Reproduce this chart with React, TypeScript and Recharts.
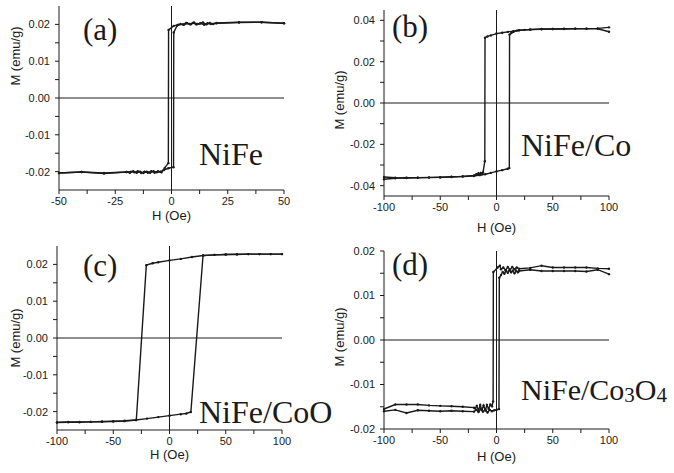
import { LineChart, Line, XAxis, YAxis, ReferenceLine } from "recharts";

// (a) NiFe — descending and ascending branches, H in Oe, M in emu/g
const aDescH = [50, 40, 30, 20, 18.5, 17, 15.5, 14, 12.5, 11, 9.5, 8, 6.5, 5, 3, 1, -1.3, -1.4, -3, -4.5, -6, -7.5, -9, -10.5, -12, -13.5, -15, -16.5, -18, -20, -30, -40, -50];
const aDescM = [0.0203, 0.0206, 0.0205, 0.0203, 0.0201, 0.0204, 0.02, 0.0205, 0.0202, 0.02, 0.0204, 0.0201, 0.0204, 0.02, 0.0199, 0.0196, 0.0185, -0.0177, -0.019, -0.0202, -0.0199, -0.0203, -0.0199, -0.0203, -0.02, -0.0204, -0.0199, -0.0202, -0.02, -0.0201, -0.0204, -0.0201, -0.0204];
const aAscH = [-50, -40, -30, -20, -18.5, -17, -15.5, -14, -12.5, -11, -9.5, -8, -6.5, -5, -3.5, -1.4, 0.9, 1.0, 2.5, 4, 5.5, 7, 8.5, 10, 11.5, 13, 14.5, 16, 17.5, 20, 30, 40, 50];
const aAscM = [-0.0204, -0.0201, -0.0205, -0.0201, -0.0203, -0.0199, -0.0203, -0.02, -0.0204, -0.02, -0.0203, -0.0199, -0.0202, -0.02, -0.0196, -0.0191, -0.0188, 0.0178, 0.0197, 0.0201, 0.0199, 0.0203, 0.02, 0.0205, 0.0201, 0.0203, 0.0199, 0.0203, 0.0201, 0.0204, 0.0206, 0.0206, 0.0203];

// (b) NiFe/Co
const bDescH = [100, 90, 80, 70, 60, 50, 40, 30, 20, 15, 10, 5, 0, -5, -8, -10.2, -10.4, -12, -13, -14, -15, -16, -17, -18, -20, -30, -40, -50, -60, -70, -80, -90, -100];
const bDescM = [0.0366, 0.0361, 0.0359, 0.0359, 0.0358, 0.0358, 0.0357, 0.0355, 0.0352, 0.0348, 0.0344, 0.034, 0.0336, 0.0327, 0.0322, 0.0316, -0.0282, -0.0336, -0.0345, -0.0338, -0.0347, -0.034, -0.0348, -0.0345, -0.035, -0.0355, -0.0357, -0.0359, -0.036, -0.0361, -0.0362, -0.0364, -0.0369];
const bAscH = [-100, -90, -80, -70, -60, -50, -40, -30, -20, -15, -10, -5, 0, 5, 10, 11.4, 11.6, 13, 15, 18, 20, 25, 30, 40, 50, 60, 70, 80, 90, 100];
const bAscM = [-0.0358, -0.0362, -0.0363, -0.0362, -0.0361, -0.036, -0.0358, -0.0356, -0.0353, -0.0349, -0.0345, -0.0338, -0.0331, -0.0325, -0.0318, -0.0315, 0.0331, 0.0338, 0.0344, 0.035, 0.0352, 0.0354, 0.0356, 0.0358, 0.0358, 0.0359, 0.036, 0.036, 0.0359, 0.0345];

// (c) NiFe/CoO
const cDescH = [100, 90, 80, 70, 60, 50, 40, 30, 20, 10, 0, -10, -15, -20.6, -29.5, -40, -50, -60, -70, -80, -90, -100];
const cDescM = [0.0228, 0.0228, 0.0228, 0.0228, 0.0227, 0.0227, 0.0226, 0.0224, 0.022, 0.0215, 0.0211, 0.0206, 0.0203, 0.0198, -0.0223, -0.0226, -0.0227, -0.0228, -0.0228, -0.0229, -0.0229, -0.023];
const cAscH = [-100, -90, -80, -70, -60, -50, -40, -30, -20, -10, 0, 10, 15, 19, 29.8, 40, 50, 60, 70, 80, 90, 100];
const cAscM = [-0.0229, -0.0228, -0.0228, -0.0228, -0.0227, -0.0226, -0.0225, -0.0223, -0.0219, -0.0215, -0.0211, -0.0207, -0.0205, -0.0201, 0.0224, 0.0226, 0.0227, 0.0228, 0.0228, 0.0228, 0.0228, 0.0228];

// (d) NiFe/Co3O4
const dDescH = [100, 90, 80, 70, 60, 50, 40, 30, 20, 18, 16, 14, 12, 10, 8, 6, 4, 3, 1, -2.8, -3.0, -4, -5.5, -7, -8.5, -10, -11.5, -13, -14.5, -16, -17.5, -19, -20, -30, -40, -50, -60, -70, -80, -90, -100];
const dDescM = [0.016, 0.0161, 0.0163, 0.0163, 0.0163, 0.0163, 0.0167, 0.0162, 0.016, 0.0163, 0.0159, 0.0164, 0.0158, 0.0164, 0.0157, 0.0163, 0.0159, 0.0167, 0.0163, 0.0153, -0.0138, -0.0149, -0.0145, -0.0155, -0.0146, -0.0158, -0.0147, -0.0157, -0.0146, -0.0159, -0.0148, -0.0154, -0.0152, -0.015, -0.0149, -0.0148, -0.0147, -0.0145, -0.0145, -0.0145, -0.0155];
const dAscH = [-100, -90, -80, -70, -60, -50, -40, -30, -20, -18, -16, -14, -12, -10, -8, -6, -4, -2, 0, 2.2, 2.5, 4, 5.5, 7, 8.5, 10, 11.5, 13, 14.5, 16, 17.5, 19, 20, 30, 40, 50, 60, 70, 80, 90, 100];
const dAscM = [-0.016, -0.0157, -0.0164, -0.0158, -0.0159, -0.016, -0.0159, -0.016, -0.0161, -0.0157, -0.0162, -0.0155, -0.0161, -0.0156, -0.0163, -0.0157, -0.016, -0.0158, -0.0157, -0.0155, 0.014, 0.0146, 0.0153, 0.0149, 0.0156, 0.0151, 0.0157, 0.0152, 0.0156, 0.015, 0.0156, 0.0152, 0.0155, 0.0158, 0.0155, 0.0155, 0.0155, 0.0155, 0.0154, 0.0158, 0.0148];

// tick positions (majors get labels, the rest are minor marks)
const hTicks50 = [-50, -37.5, -25, -12.5, 0, 12.5, 25, 37.5, 50];
const hTicks100 = [-100, -75, -50, -25, 0, 25, 50, 75, 100];
const mTicks02 = [-0.02, -0.015, -0.01, -0.005, 0, 0.005, 0.01, 0.015, 0.02];
const mTicks04 = [-0.04, -0.03, -0.02, -0.01, 0, 0.01, 0.02, 0.03, 0.04];

const pair = (hs: number[], ms: number[]) => hs.map((h, i) => ({ h, m: ms[i] }));

const ink = "#1a1a1a";
const sans = "'Liberation Sans', Arial, sans-serif";
const serif = "'Liberation Serif', 'Times New Roman', serif";

const isMajor = (v: number, step: number) => Math.abs(v / step - Math.round(v / step)) < 1e-6;

type PanelProps = {
  left: number;
  top: number;
  mt: number;
  yw: number;
  mr: number;
  xh: number;
  xDomain: [number, number];
  xTicks: number[];
  xMajor: number;
  yDomain: [number, number];
  yTicks: number[];
  yMajor: number;
  desc: { h: number; m: number }[];
  asc: { h: number; m: number }[];
  xTitleOffset: number;
  yTitle: [number, number];
  letter: string;
  letterPos: [number, number];
  name: React.ReactNode;
  namePos: [number, number];
  nameSize?: number;
};

function Panel(p: PanelProps) {
  return (
    <div style={{ position: "absolute", left: p.left, top: p.top, width: 337, height: 236 }}>
      <LineChart width={337} height={236} margin={{ top: p.mt, right: p.mr, bottom: 0, left: 0 }}>
        <XAxis
          type="number"
          dataKey="h"
          domain={p.xDomain}
          ticks={p.xTicks}
          interval={0}
          height={p.xh}
          tickSize={4}
          tickMargin={3}
          axisLine={{ stroke: ink }}
          tickLine={{ stroke: ink }}
          tick={{ fill: ink, fontSize: 11, fontFamily: sans }}
          tickFormatter={(v: number) => (isMajor(v, p.xMajor) ? String(v) : "")}
          label={{ value: "H (Oe)", position: "insideBottom", offset: p.xTitleOffset, fill: ink, fontSize: 13, fontFamily: sans }}
        />
        <YAxis
          type="number"
          domain={p.yDomain}
          ticks={p.yTicks}
          interval={0}
          width={p.yw}
          tickSize={4}
          tickMargin={5}
          axisLine={{ stroke: ink }}
          tickLine={{ stroke: ink }}
          tick={{ fill: ink, fontSize: 11, fontFamily: sans }}
          tickFormatter={(v: number) => (isMajor(v, p.yMajor) ? v.toFixed(2) : "")}
        />
        <ReferenceLine y={0} stroke={ink} strokeWidth={1} />
        <ReferenceLine x={0} stroke={ink} strokeWidth={1} />
        <Line
          data={p.desc}
          dataKey="m"
          name="descending"
          type="linear"
          stroke={ink}
          strokeWidth={1.4}
          dot={{ r: 1.2, fill: ink, stroke: "none" }}
          isAnimationActive={false}
        />
        <Line
          data={p.asc}
          dataKey="m"
          name="ascending"
          type="linear"
          stroke={ink}
          strokeWidth={1.4}
          dot={{ r: 1.2, fill: ink, stroke: "none" }}
          isAnimationActive={false}
        />
      </LineChart>
      <svg
        width={337}
        height={236}
        style={{ position: "absolute", left: 0, top: 0, overflow: "visible", pointerEvents: "none" }}
      >
        <text
          x={p.yTitle[0]}
          y={p.yTitle[1]}
          transform={`rotate(-90, ${p.yTitle[0]}, ${p.yTitle[1]})`}
          textAnchor="middle"
          dominantBaseline="central"
          fontSize={13}
          fontFamily={sans}
          fill={ink}
        >
          M (emu/g)
        </text>
        <text x={p.letterPos[0]} y={p.letterPos[1]} fontSize={31} fontFamily={serif} fill={ink}>
          {p.letter}
        </text>
        <text x={p.namePos[0]} y={p.namePos[1]} fontSize={p.nameSize ?? 32} fontFamily={serif} fill={ink}>
          {p.name}
        </text>
      </svg>
    </div>
  );
}

export default function App() {
  return (
    <div style={{ position: "absolute", left: 0, top: 0, width: 674, height: 473, background: "#fff" }}>
      <Panel
        left={0}
        top={0}
        mt={6}
        yw={59}
        mr={53}
        xh={46}
        xDomain={[-50, 50]}
        xTicks={hTicks50}
        xMajor={25}
        yDomain={[-0.025, 0.025]}
        yTicks={mTicks02}
        yMajor={0.01}
        desc={pair(aDescH, aDescM)}
        asc={pair(aAscH, aAscM)}
        xTitleOffset={16}
        yTitle={[15, 56]}
        letter="(a)"
        letterPos={[83, 40]}
        name="NiFe"
        namePos={[199, 165]}
      />
      <Panel
        left={337}
        top={0}
        mt={10}
        yw={47}
        mr={65}
        xh={40}
        xDomain={[-100, 100]}
        xTicks={hTicks100}
        xMajor={50}
        yDomain={[-0.045, 0.045]}
        yTicks={mTicks04}
        yMajor={0.02}
        desc={pair(bDescH, bDescM)}
        asc={pair(bAscH, bAscM)}
        xTitleOffset={4}
        yTitle={[2, 100]}
        letter="(b)"
        letterPos={[55, 37]}
        name="NiFe/Co"
        namePos={[184, 156]}
      />
      <Panel
        left={0}
        top={236}
        mt={10}
        yw={57}
        mr={55}
        xh={42}
        xDomain={[-100, 100]}
        xTicks={hTicks100}
        xMajor={50}
        yDomain={[-0.025, 0.025]}
        yTicks={mTicks02}
        yMajor={0.01}
        desc={pair(cDescH, cDescM)}
        asc={pair(cAscH, cAscM)}
        xTitleOffset={13}
        yTitle={[15, 102]}
        letter="(c)"
        letterPos={[83, 40]}
        name="NiFe/CoO"
        namePos={[199, 187]}
      />
      <Panel
        left={337}
        top={236}
        mt={15}
        yw={47}
        mr={65}
        xh={43}
        xDomain={[-100, 100]}
        xTicks={hTicks100}
        xMajor={50}
        yDomain={[-0.02, 0.02]}
        yTicks={mTicks02}
        yMajor={0.01}
        desc={pair(dDescH, dDescM)}
        asc={pair(dAscH, dAscM)}
        xTitleOffset={11}
        yTitle={[2, 101]}
        letter="(d)"
        letterPos={[55, 39]}
        nameSize={30}
        name={
          <>
            NiFe/Co<tspan fontSize={21} dy={2}>3</tspan>
            <tspan dy={-2}>O</tspan>
            <tspan fontSize={21} dy={2}>4</tspan>
          </>
        }
        namePos={[184, 164]}
      />
    </div>
  );
}
